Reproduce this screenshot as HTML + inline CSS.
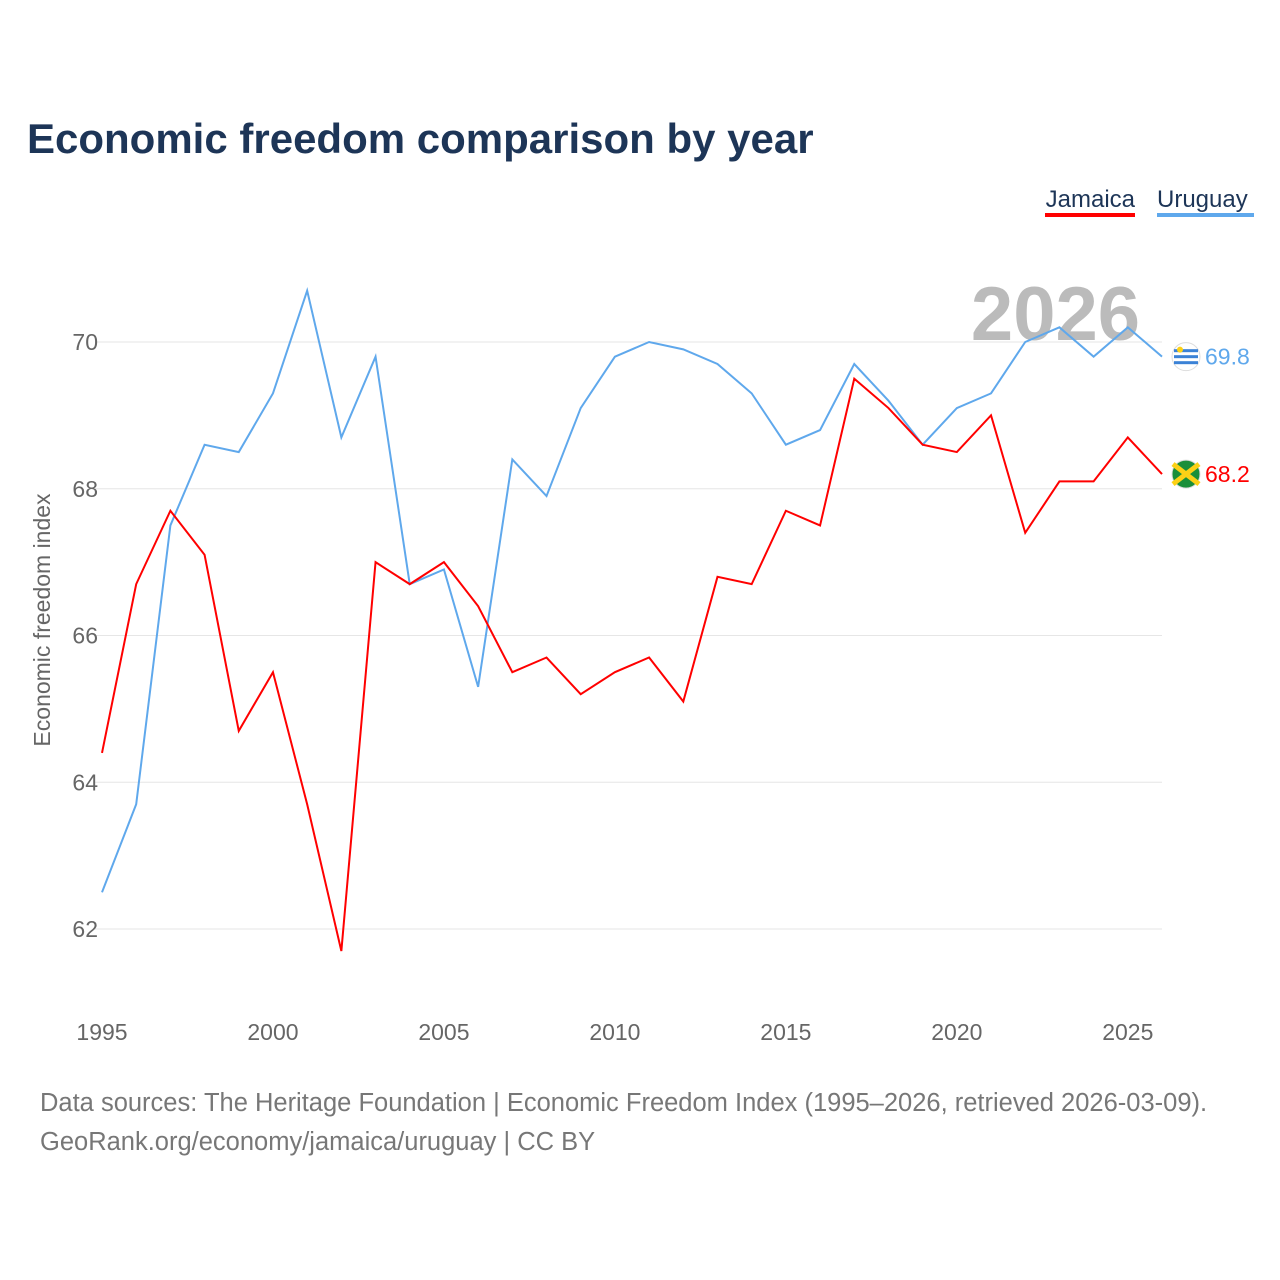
<!DOCTYPE html>
<html><head><meta charset="utf-8"><style>
body{margin:0;background:#fff;font-family:"Liberation Sans",sans-serif}
#wrap{position:relative;width:1280px;height:1280px;overflow:hidden}
</style></head><body>
<div id="wrap">
<svg id="chart" width="1280" height="1280"></svg>
</div>
<script>
const years=[1995,1996,1997,1998,1999,2000,2001,2002,2003,2004,2005,2006,2007,2008,2009,2010,2011,2012,2013,2014,2015,2016,2017,2018,2019,2020,2021,2022,2023,2024,2025,2026];
const jamaica=[64.4,66.7,67.7,67.1,64.7,65.5,63.7,61.7,67.0,66.7,67.0,66.4,65.5,65.7,65.2,65.5,65.7,65.1,66.8,66.7,67.7,67.5,69.5,69.1,68.6,68.5,69.0,67.4,68.1,68.1,68.7,68.2];
const uruguay=[62.5,63.7,67.5,68.6,68.5,69.3,70.7,68.7,69.8,66.7,66.9,65.3,68.4,67.9,69.1,69.8,70.0,69.9,69.7,69.3,68.6,68.8,69.7,69.2,68.6,69.1,69.3,70.0,70.2,69.8,70.2,69.8];
const yTicks=[62,64,66,68,70];
const xTicks=[1995,2000,2005,2010,2015,2020,2025];
const NS="http://www.w3.org/2000/svg";
const svg=document.getElementById('chart');
const x=v=>102+(v-1995)*(1162-102)/31;
const y=v=>342+(70-v)*73.375;
function el(t,a,txt){const e=document.createElementNS(NS,t);for(const k in a)e.setAttribute(k,a[k]);if(txt!==undefined)e.textContent=txt;svg.appendChild(e);return e;}
let e;
e=el('text',{x:27,y:153,'font-size':42,'font-weight':'bold',fill:'#1d3557'},'Economic freedom comparison by year');


yTicks.forEach(t=>{
 e=el('line',{x1:95,x2:1162,y1:y(t),y2:y(t),stroke:'#e6e6e6','stroke-width':1});
 
 
 e=el('text',{x:98,y:y(t)+8,'font-size':23,fill:'#666','text-anchor':'end'},t);
 
 
});
xTicks.forEach(t=>{
 e=el('text',{x:x(t),y:1040,'font-size':23,fill:'#666','text-anchor':'middle'},t);
 
 
});
e=el('text',{x:0,y:0,'font-size':23,fill:'#666','text-anchor':'middle',transform:'translate(50,620) rotate(-90)'},'Economic freedom index');


e=el('text',{x:1140,y:340,'font-size':76,'font-weight':'bold',fill:'#bbb','text-anchor':'end'},'2026');


function series(vals,color,name){
 const d=vals.map((v,i)=>(i?'L':'M')+x(years[i])+' '+y(v)).join(' ');
 e=el('path',{d:d,fill:'none',stroke:color,'stroke-width':2});
 
 
 const last=vals[vals.length-1];
 e=el('circle',{cx:1186,cy:y(last),r:14,fill:name==='jamaica'?'#1a8f3a':'#fff',stroke:'#ddd'});
 
 
 e=el('text',{x:1205,y:y(last)+8,'font-size':23,fill:color},last.toFixed(1));
 
 
}
series(uruguay,'#5fa8ec','uruguay');
series(jamaica,'#ff0000','jamaica');
el('path',{d:`M1173 ${y(68.2)-10} L1199 ${y(68.2)+10} M1173 ${y(68.2)+10} L1199 ${y(68.2)-10}`,stroke:'#fcd116','stroke-width':5});
[-6,0,6].forEach(o=>el('rect',{x:1174,y:y(69.8)+o-1.5,width:24,height:3,fill:'#3b82d6'}));
el('circle',{cx:1180,cy:y(69.8)-7,r:3,fill:'#fcd116'});
e=el('text',{x:1135,y:207,'font-size':24,fill:'#1d3557','text-anchor':'end'},'Jamaica');


el('rect',{x:1045,y:213,width:90,height:4,fill:'#ff0000'});
e=el('text',{x:1157,y:207,'font-size':24,fill:'#1d3557'},'Uruguay');


el('rect',{x:1157,y:213,width:97,height:4,fill:'#5fa8ec'});
e=el('text',{x:40,y:1111,'font-size':25.5,fill:'#777'},'Data sources: The Heritage Foundation | Economic Freedom Index (1995–2026, retrieved 2026-03-09).');


e=el('text',{x:40,y:1150,'font-size':25.5,fill:'#777'},'GeoRank.org/economy/jamaica/uruguay | CC BY');


</script>
</body></html>
